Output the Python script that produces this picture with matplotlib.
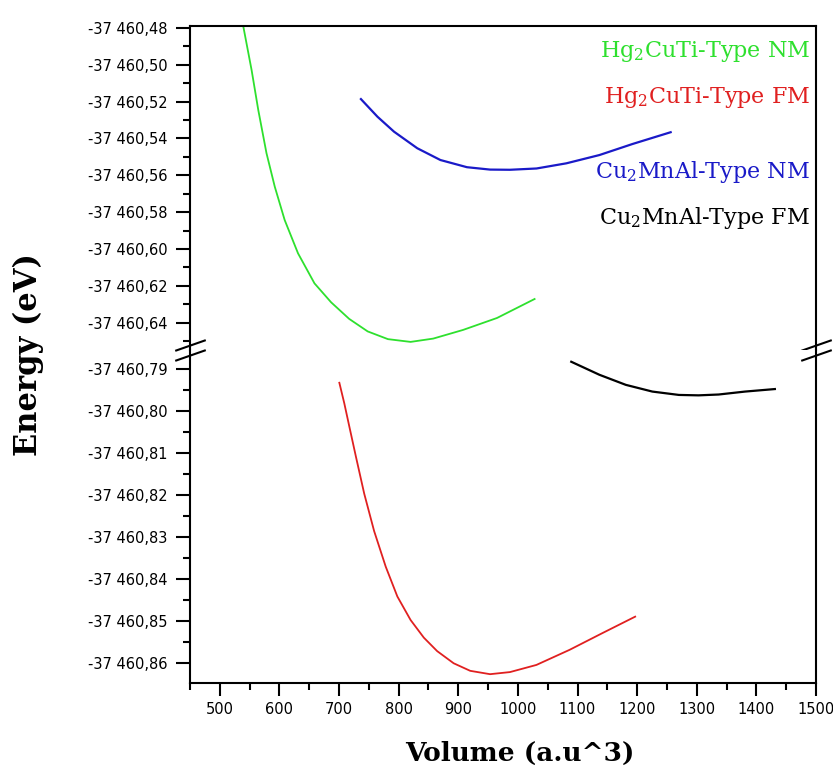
import numpy as np
import matplotlib
matplotlib.use("Agg")
from matplotlib import pyplot as plt
from matplotlib.ticker import MultipleLocator, FuncFormatter

# Hg2CuTi-type, non magnetic (upper panel)
hg_nm_vol = [539.5, 553.3, 564.5, 578.3, 592.2, 608.8, 631.2, 658.8, 686.7, 717,
             748, 782, 820, 858, 908, 965, 1028]
hg_nm_e = [-37460.4793, -37460.5028, -37460.5245, -37460.5480, -37460.5662, -37460.5843,
           -37460.6024, -37460.6187, -37460.6290, -37460.6380, -37460.6448, -37460.6490,
           -37460.6505, -37460.6487, -37460.6440, -37460.6375, -37460.6272]

# Cu2MnAl-type, non magnetic (upper panel)
cu_nm_vol = [736.7, 764.5, 792.2, 831.2, 870, 914.5, 953.3, 986.7, 1031.2, 1081.2,
             1136.7, 1192.2, 1256.2]
cu_nm_e = [-37460.5186, -37460.5282, -37460.5363, -37460.5453, -37460.5517, -37460.5556,
           -37460.5569, -37460.5570, -37460.5563, -37460.5535, -37460.5490, -37460.5430,
           -37460.5366]

# Hg2CuTi-type, ferromagnetic (lower panel)
hg_fm_vol = [700.5, 708.8, 717.2, 728.3, 742.2, 758.8, 778.3, 797.8, 820, 842.2, 864.5,
             892.2, 920, 953.3, 986.7, 1031, 1086.7, 1142, 1196.7]
hg_fm_e = [-37460.7933, -37460.7982, -37460.8037, -37460.8109, -37460.8197, -37460.8286,
           -37460.8371, -37460.8442, -37460.8498, -37460.8540, -37460.8572, -37460.8601,
           -37460.8619, -37460.8627, -37460.8622, -37460.8605, -37460.8569, -37460.8529,
           -37460.8490]

# Cu2MnAl-type, ferromagnetic (lower panel)
cu_fm_vol = [1089.5, 1136.7, 1181, 1225.5, 1270, 1303, 1336.7, 1381, 1431]
cu_fm_e = [-37460.7883, -37460.7914, -37460.7938, -37460.7954, -37460.7962, -37460.7963,
           -37460.7961, -37460.7954, -37460.7948]

legend_labels = ["Hg$_2$CuTi-Type NM", "Hg$_2$CuTi-Type FM",
                 "Cu$_2$MnAl-Type NM", "Cu$_2$MnAl-Type FM"]
colors = ["#2ee02e", "#e02020", "#1a1ac8", "black"]

plt.rcParams['mathtext.fontset'] = 'dejavuserif'

fig = plt.figure(figsize=(8.33, 7.74), dpi=100)
W, H = 833, 774
left, right, top, brk, bottom = 190, 816, 26, 350, 683
ax_top = fig.add_axes([left / W, 1 - brk / H, (right - left) / W, (brk - top) / H])
ax_bot = fig.add_axes([left / W, 1 - bottom / H, (right - left) / W, (bottom - brk) / H])

ax_top.plot(hg_nm_vol, hg_nm_e, color=colors[0], lw=1.3)
ax_top.plot(cu_nm_vol, cu_nm_e, color=colors[2], lw=1.6)
ax_bot.plot(hg_fm_vol, hg_fm_e, color=colors[1], lw=1.3)
ax_bot.plot(cu_fm_vol, cu_fm_e, color=colors[3], lw=1.6)

ax_top.set_ylim(-37460.6549, -37460.4789)
ax_bot.set_ylim(-37460.8648, -37460.7855)
for ax in (ax_top, ax_bot):
    ax.set_xlim(450, 1500)


def energy_fmt(v, pos):
    s = f"{v:,.2f}"
    return s.replace(",", " ").replace(".", ",")


ax_top.yaxis.set_major_locator(MultipleLocator(0.02))
ax_top.yaxis.set_minor_locator(MultipleLocator(0.01))
ax_bot.yaxis.set_major_locator(MultipleLocator(0.01))
ax_bot.yaxis.set_minor_locator(MultipleLocator(0.005))
ax_bot.xaxis.set_major_locator(MultipleLocator(100))
ax_bot.xaxis.set_minor_locator(MultipleLocator(50))

for ax in (ax_top, ax_bot):
    ax.yaxis.set_major_formatter(FuncFormatter(energy_fmt))
    for sp in ax.spines.values():
        sp.set_linewidth(1.5)
    ax.tick_params(axis='y', which='major', direction='out', length=10, width=1.5,
                   pad=6, labelsize=10.5)
    ax.tick_params(axis='y', which='minor', direction='out', length=5, width=1.5)
    ax.tick_params(axis='y', which='both', right=False)

ax_top.spines['bottom'].set_visible(False)
ax_bot.spines['top'].set_visible(False)
ax_top.tick_params(axis='x', which='both', bottom=False, top=False, labelbottom=False)
ax_bot.tick_params(axis='x', which='major', direction='out', length=9, width=1.5,
                   pad=5, labelsize=10.5)
ax_bot.tick_params(axis='x', which='minor', direction='out', length=5, width=1.5)
ax_bot.tick_params(axis='x', which='both', top=False)

# axis break marks
brk_kw = dict(marker=[(-1, -0.35), (1, 0.35)], markersize=22, linestyle='none',
              color='k', mec='k', mew=1.5, clip_on=False)
ax_top.plot([0, 1], [0.015, 0.015], transform=ax_top.transAxes, **brk_kw)
ax_bot.plot([0, 1], [0.985, 0.985], transform=ax_bot.transAxes, **brk_kw)

# colored text legend
legend_y = [0.92, 0.778, 0.549, 0.407]
for lab, c, y in zip(legend_labels, colors, legend_y):
    ax_top.text(0.99, y, lab, color=c, transform=ax_top.transAxes, ha='right',
                va='center', fontsize=16, family='DejaVu Serif')

fig.text(28 / W, 1 - 355 / H, "Energy (eV)", rotation=90, ha='center', va='center',
         fontsize=22, fontweight='bold', family='DejaVu Serif')
fig.text(520 / W, 1 - 753 / H, "Volume (a.u^3)", ha='center', va='center',
         fontsize=19, fontweight='bold', family='DejaVu Serif')

fig.savefig("out.png", dpi=100)
